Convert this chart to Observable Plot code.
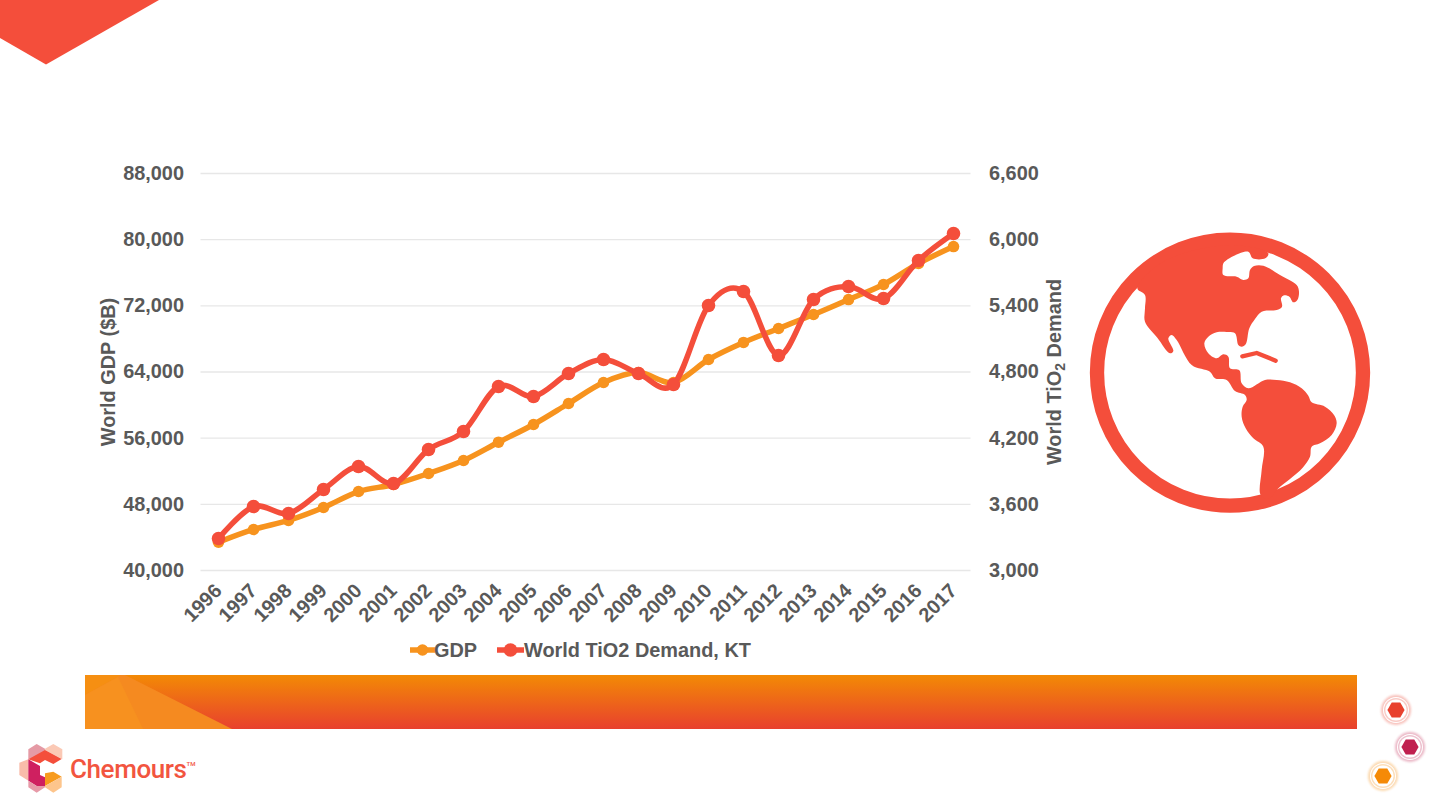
<!DOCTYPE html>
<html>
<head>
<meta charset="utf-8">
<script src="https://cdn.jsdelivr.net/npm/d3@7"></script>
<script src="https://cdn.jsdelivr.net/npm/@observablehq/plot@0.6"></script>
<style>
  html, body { margin: 0; padding: 0; background: #fff; width: 1440px; height: 810px; overflow: hidden; position: relative; }
  #chart { position: absolute; left: 0; top: 0; }
  .deco { position: absolute; display: block; }
  #legend { position: absolute; left: 0; top: 638px; width: 1440px; height: 24px; font: bold 19.9px "Liberation Sans", Arial, sans-serif; color: #595959; }
  #legend span { position: absolute; top: 0; line-height: 24px; white-space: nowrap; }
  #legend svg { position: absolute; top: 0; }
  #brand { position: absolute; left: 70px; top: 750px; font: 500 26px Roboto, sans-serif; color: #f2553f; letter-spacing: -0.4px; line-height: 38px; white-space: nowrap; }
  #brand sup { font-size: 6px; letter-spacing: 0; vertical-align: 12px; line-height: 0; }
</style>
</head>
<body>
<svg class="deco" style="left:0;top:0" width="170" height="70" viewBox="0 0 170 70"><polygon points="0,0 159,0 46,64.5 0,38" fill="#f44e3b"/></svg>
<div id="chart"></div>
<div id="legend"></div>
<svg class="deco" style="left:1080px;top:225px" width="300" height="295" viewBox="0 0 900 885">
  <circle cx="450" cy="443" r="399" fill="none" stroke="#f44e3b" stroke-width="43"/>
  <path id="land" fill="#f44e3b"/>
  <path d="M487,394 L530,384 L587,407" fill="none" stroke="#f44e3b" stroke-width="13" stroke-linecap="round" stroke-linejoin="round"/>
</svg>
<svg class="deco" style="left:85px;top:675px" width="1272" height="54" viewBox="0 0 1272 54">
  <defs><linearGradient id="band" x1="0" y1="0" x2="0" y2="1"><stop offset="0" stop-color="#f38a05"/><stop offset="1" stop-color="#e8402e"/></linearGradient></defs>
  <rect width="1272" height="54" fill="url(#band)"/>
  <polygon points="0,0 40,0 147,54 0,54" fill="#f58a20"/>
  <polygon points="0,0 36,0 0,20" fill="#f68f12"/>
  <polygon points="0,20 33,2 58,54 0,54" fill="#f7911f"/>
</svg>
<svg class="deco" style="left:0;top:660px" width="300" height="150" viewBox="0 0 900 450">
  <polygon points="85,268 110,252 135,266 135,281 85,298" fill="#e59aa5"/>
  <polygon points="135,266 160,252 187,268 187,298 135,270" fill="#fbc9b5"/>
  <polygon points="58,308 85,298 85,362 58,345" fill="#f9bcaa"/>
  <polygon points="85,298 135,270 185,297 160,312 135,300 120,310" fill="#f44e3b"/>
  <polygon points="85,298 120,318 120,345 135,352 135,378 110,378 85,362" fill="#cf2060"/>
  <polygon points="85,362 110,378 135,378 135,382 110,398 85,382" fill="#e79aa8"/>
  <polygon points="135,340 160,335 185,350 135,378" fill="#f79b1e"/>
  <polygon points="135,378 185,350 185,382 160,398 135,382" fill="#fdc58c"/>
</svg>
<div id="brand">Chemours<sup>TM</sup></div>
<svg class="deco" style="left:1360px;top:690px" width="80" height="110" viewBox="1360 690 80 110">
  <defs><filter id="soft" x="-30%" y="-30%" width="160%" height="160%"><feGaussianBlur stdDeviation="1.3"/></filter></defs>
  <g id="badges"></g>
</svg>
<script>
// Values
const years = [1996,1997,1998,1999,2000,2001,2002,2003,2004,2005,2006,2007,2008,2009,2010,2011,2012,2013,2014,2015,2016,2017];
const gdp = [43420,44960,46050,47620,49550,50400,51730,53300,55510,57650,60190,62730,63940,62730,65510,67570,69260,70950,72760,74580,77120,79170];
const tio2 = [3290,3580,3517,3735,3943,3789,4097,4260,4669,4578,4786,4913,4786,4687,5403,5530,4950,5457,5575,5466,5811,6056];
const gdpTicks = [40000,48000,56000,64000,72000,80000,88000];
const demandDomain = [3000,6600];
const gdpDomain = [40000,88000];
const seriesNames = ["GDP","World TiO2 Demand, KT"];
const colors = ["#f7931e","#f44e3b"];

const toLeft = d3.scaleLinear(demandDomain, gdpDomain);
const gdpRows = years.map((year,i) => ({year, value: gdp[i]}));
const demandRows = years.map((year,i) => ({year, value: toLeft(tio2[i])}));
const smooth = {curve: "cardinal", tension: 0};

const chart = Plot.plot({
  width: 1440, height: 640,
  marginTop: 173, marginBottom: 70, marginLeft: 200.5, marginRight: 469.5,
  x: {domain: [1995.5, 2017.5]},
  y: {domain: gdpDomain},
  style: {fontFamily: '"Liberation Sans", Arial, sans-serif', fontWeight: "bold", fontSize: "19.9px", color: "#595959", background: "transparent"},
  marks: [
    Plot.ruleY(gdpTicks, {stroke: "#e7e7e7", strokeWidth: 1.4}),
    Plot.axisX({ticks: years, tickFormat: "d", tickSize: 0, tickRotate: -45, tickPadding: 17, label: null, fontSize: 19.9, fill: "#595959"}),
    Plot.axisY({anchor: "left", ticks: gdpTicks, tickSize: 0, tickPadding: 17, tickFormat: d3.format(","), label: "World GDP ($B)", labelAnchor: "center", labelArrow: "none", labelOffset: 100, fill: "#595959"}),
    Plot.axisY({anchor: "right", ticks: gdpTicks, tickSize: 0, tickPadding: 18, tickFormat: d => d3.format(",")(Math.round(toLeft.invert(d))), label: "World TiO2 Demand", labelAnchor: "center", labelArrow: "none", labelOffset: 90, fill: "#595959"}),
    Plot.line(gdpRows, {x: "year", y: "value", stroke: colors[0], strokeWidth: 5.5, ...smooth}),
    Plot.dot(gdpRows, {x: "year", y: "value", fill: colors[0], r: 5.8}),
    Plot.line(demandRows, {x: "year", y: "value", stroke: colors[1], strokeWidth: 5.5, ...smooth}),
    Plot.dot(demandRows, {x: "year", y: "value", fill: colors[1], r: 6.8})
  ]
});
document.getElementById("chart").append(chart);

// Subscript in the right axis title, kept as real text
chart.querySelectorAll("text").forEach(t => {
  if (t.textContent === "World TiO2 Demand") {
    t.innerHTML = 'World TiO<tspan dy="4" font-size="14">2</tspan><tspan dy="-4"> Demand</tspan>';
  }
});

// Legend
const legend = document.getElementById("legend");
[[410, 434, 0, 25], [497, 524, 1, 27]].forEach(([sx, tx, i, w]) => {
  const ns = "http://www.w3.org/2000/svg";
  const s = document.createElementNS(ns, "svg");
  s.setAttribute("width", w); s.setAttribute("height", 24);
  s.style.left = sx + "px";
  s.innerHTML = `<line x1="0" x2="${w}" y1="12" y2="12" stroke="${colors[i]}" stroke-width="5.5" stroke-linecap="round"/><circle cx="${w/2}" cy="12" r="${i?6.8:5.8}" fill="${colors[i]}"/>`;
  legend.append(s);
  const t = document.createElement("span");
  t.textContent = seriesNames[i];
  t.style.left = tx + "px";
  legend.append(t);
});

// Globe artwork outline, smoothed
const landOutline = [[565,85],[556,100],[518,100],[505,80],[432,112],[428,130],[430,150],[470,155],[490,165],[505,160],[510,135],[522,123],[550,122],[600,150],[650,180],[657,200],[652,225],[640,232],[628,215],[612,211],[603,220],[606,245],[590,255],[545,260],[525,282],[508,310],[497,358],[485,365],[475,360],[465,325],[440,321],[410,322],[385,335],[373,355],[385,385],[410,400],[430,388],[445,395],[450,430],[478,436],[485,475],[505,490],[555,465],[590,465],[630,472],[665,490],[685,512],[695,532],[735,545],[762,570],[770,595],[755,630],[720,655],[695,665],[690,695],[668,728],[630,762],[593,792],[575,815],[557,822],[541,808],[545,735],[550,665],[520,640],[497,610],[485,575],[488,545],[500,525],[495,510],[465,498],[440,465],[405,460],[390,440],[335,420],[290,345],[275,330],[265,340],[280,378],[270,385],[232,338],[195,290],[195,250],[195,210],[172,190],[250,110],[450,60]];
document.getElementById("land").setAttribute("d", d3.line().curve(d3.curveCatmullRomClosed.alpha(0.5))(landOutline));

// Corner badges
const badgeSpots = [[1396,710,"#e8412e"],[1410,747,"#c0204f"],[1383,776,"#f58a07"]];
const hex = (cx,cy,r) => d3.range(6).map(k => { const a = k*Math.PI/3; return [cx + r*Math.cos(a), cy + r*Math.sin(a)].join(","); }).join(" ");
document.getElementById("badges").innerHTML = badgeSpots.map(([x,y,c]) => `
  <circle cx="${x}" cy="${y}" r="15" fill="${c}" opacity="0.32" filter="url(#soft)"/>
  <circle cx="${x}" cy="${y}" r="13" fill="#fff"/>
  <circle cx="${x}" cy="${y}" r="12" fill="${c}" opacity="0.28"/>
  <circle cx="${x}" cy="${y}" r="10.6" fill="#fff"/>
  <polygon points="${hex(x,y,8.6)}" fill="${c}"/>`).join("");
</script>
</body>
</html>
